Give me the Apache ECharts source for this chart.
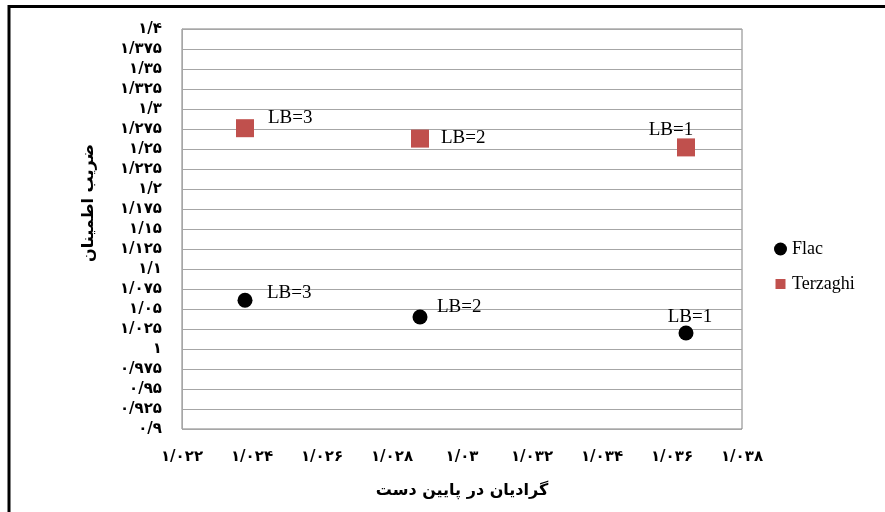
<!DOCTYPE html>
<html>
<head>
<meta charset="utf-8">
<script src="https://cdn.jsdelivr.net/npm/echarts@6/dist/echarts.min.js"></script>
<style>html,body{margin:0;padding:0;background:#fff}#c{width:885px;height:512px}</style>
</head>
<body>
<div id="c"></div>
<script>
// ---- data ----
const seriesNames = ['Flac', 'Terzaghi'];
const pointLabels = ['LB=3', 'LB=2', 'LB=1'];
const flacX = [1.0238, 1.0288, 1.0364];
const flacY = [1.061, 1.040, 1.020];
const terzX = [1.0238, 1.0288, 1.0364];
const terzY = [1.276, 1.263, 1.252];
const xMin = 1.022, xMax = 1.038, xStep = 0.002;
const yMin = 0.9, yMax = 1.4, yStep = 0.025;
const xTitle = 'گرادیان در پایین دست';
const yTitle = 'ضریب اطمینان';

// ---- helpers ----
const faDigits = '۰۱۲۳۴۵۶۷۸۹';
function toFa(v) {
  const s = String(Number(v.toFixed(3)));
  return s.replace(/\d/g, d => faDigits[+d]).replace('.', '/');
}
const flacLabelPos = [
  {align: 'left', offset: [22, -7]},
  {align: 'left', offset: [17, -10]},
  {align: 'center', offset: [4, -16]}
];
const terzLabelPos = [
  {align: 'left', offset: [23, -10]},
  {align: 'left', offset: [21, -1]},
  {align: 'center', offset: [-15, -17]}
];
function build(xs, ys, pos) {
  return xs.map((x, i) => ({
    value: [x, ys[i]],
    label: {
      show: true, position: 'inside', formatter: pointLabels[i],
      align: pos[i].align, verticalAlign: 'middle', offset: pos[i].offset,
      color: '#000', fontFamily: 'Liberation Serif', fontSize: 19
    }
  }));
}

const chart = echarts.init(document.getElementById('c'), null, {renderer: 'canvas'});
chart.setOption({
  animation: false,
  backgroundColor: '#fff',
  grid: {left: 182, right: 143, top: 29, bottom: 83, show: true, borderColor: '#808080', borderWidth: 1, backgroundColor: 'transparent'},
  legend: {
    orient: 'vertical', left: 769, top: 235, itemWidth: 13, itemHeight: 13, itemGap: 17,
    textStyle: {fontFamily: 'Liberation Serif', fontSize: 18, color: '#000'},
    data: [
      {name: seriesNames[0], icon: 'circle'},
      {name: seriesNames[1], icon: 'path://M0,0M13,13M1.5,1.5h10v10h-10z'}
    ]
  },
  xAxis: {
    type: 'value', min: xMin, max: xMax, interval: xStep,
    name: xTitle, nameLocation: 'middle', nameGap: 54,
    nameTextStyle: {fontFamily: 'DejaVu Sans', fontWeight: 'bold', fontSize: 16, color: '#000'},
    axisLine: {show: false}, axisTick: {show: false},
    splitLine: {show: false},
    axisLabel: {formatter: toFa, margin: 21, fontFamily: 'DejaVu Sans', fontWeight: 'bold', fontSize: 15, color: '#000'}
  },
  yAxis: {
    type: 'value', min: yMin, max: yMax, interval: yStep,
    name: yTitle, nameLocation: 'middle', nameGap: 85,
    nameTextStyle: {fontFamily: 'DejaVu Sans', fontWeight: 'bold', fontSize: 16, color: '#000', padding: [0, 0, 0, 52]},
    axisLine: {show: true, lineStyle: {color: '#A6A6A6'}}, axisTick: {show: false},
    splitLine: {show: true, lineStyle: {color: '#A6A6A6', width: 1}},
    axisLabel: {formatter: toFa, margin: 20, fontFamily: 'DejaVu Sans', fontWeight: 'bold', fontSize: 15, color: '#000'}
  },
  series: [
    {name: seriesNames[0], type: 'scatter', symbol: 'circle', symbolSize: 15,
     itemStyle: {color: '#000', opacity: 1}, data: build(flacX, flacY, flacLabelPos)},
    {name: seriesNames[1], type: 'scatter', symbol: 'rect', symbolSize: 18,
     itemStyle: {color: '#C0504D', opacity: 1}, data: build(terzX, terzY, terzLabelPos)}
  ],
  graphic: [
    {type: 'line', shape: {x1: 8, y1: 6.5, x2: 885, y2: 6.5}, style: {stroke: '#000', lineWidth: 3}, silent: true},
    {type: 'line', shape: {x1: 9, y1: 5, x2: 9, y2: 512}, style: {stroke: '#000', lineWidth: 3}, silent: true}
  ]
});
</script>
</body>
</html>
